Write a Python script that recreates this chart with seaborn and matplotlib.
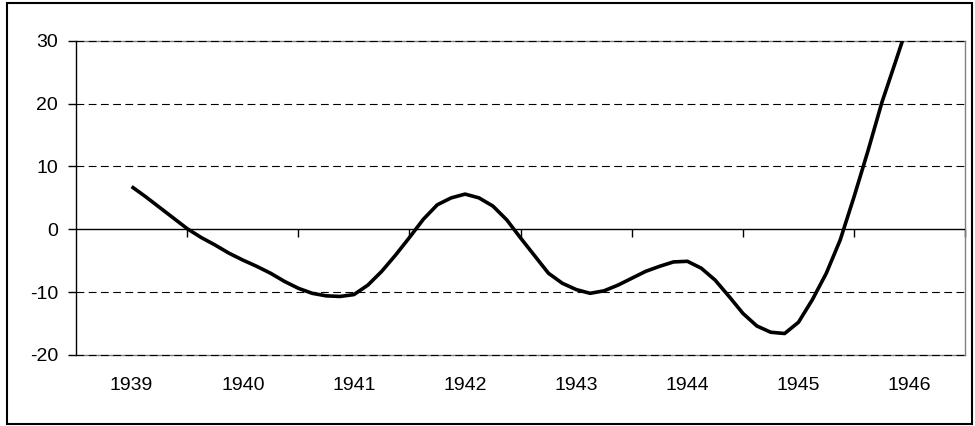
import pandas as pd
import matplotlib
matplotlib.use('Agg')
import matplotlib.pyplot as plt
from matplotlib.patches import Rectangle
import seaborn as sns

sns.set_theme(style='white')
plt.rcParams['font.family'] = ['Liberation Sans', 'DejaVu Sans']
plt.rcParams['axes.unicode_minus'] = False

# yearly categories shown on the axis
years = [1939, 1940, 1941, 1942, 1943, 1944, 1945, 1946]

# curve, one reading every eighth of a year
period = [1939.0, 1939.125, 1939.25, 1939.375, 1939.5, 1939.625, 1939.75, 1939.875,
          1940.0, 1940.125, 1940.25, 1940.375, 1940.5, 1940.625, 1940.75, 1940.875,
          1941.0, 1941.125, 1941.25, 1941.375, 1941.5, 1941.625, 1941.75, 1941.875,
          1942.0, 1942.125, 1942.25, 1942.375, 1942.5, 1942.625, 1942.75, 1942.875,
          1943.0, 1943.125, 1943.25, 1943.375, 1943.5, 1943.625, 1943.75, 1943.875,
          1944.0, 1944.125, 1944.25, 1944.375, 1944.5, 1944.625, 1944.75, 1944.875,
          1945.0, 1945.125, 1945.25, 1945.375, 1945.5, 1945.625, 1945.75, 1945.875,
          1946.0]
value = [6.8, 5.2, 3.5, 1.8, 0.1, -1.3, -2.5, -3.8,
         -4.9, -5.9, -7.0, -8.3, -9.4, -10.2, -10.6, -10.7,
         -10.4, -8.9, -6.7, -4.1, -1.3, 1.6, 3.9, 5.0,
         5.6, 5.0, 3.7, 1.5, -1.4, -4.2, -7.0, -8.6,
         -9.6, -10.2, -9.8, -8.9, -7.8, -6.7, -5.9, -5.2,
         -5.1, -6.2, -8.1, -10.7, -13.4, -15.4, -16.4, -16.6,
         -14.8, -11.2, -7.0, -1.7, 5.2, 12.5, 20.2, 26.8,
         33.5]

y_ticks = [-20, -10, 0, 10, 20, 30]

df = pd.DataFrame({'period': period, 'value': value})

fig = plt.figure(figsize=(9.75, 4.26), dpi=100)
ax = fig.add_axes([0.078, 0.167, 0.912, 0.737])

# dashed grid over the grey frame, line on top
for yv in y_ticks:
    if yv != 0:
        ax.axhline(yv, color='black', lw=0.8, ls=(0, (7, 4)), zorder=2.6,
                   clip_on=False)
ax.axhline(0, color='black', lw=1.0, zorder=2.6)

sns.lineplot(data=df, x='period', y='value', sort=False, color='black',
             lw=2.6, ax=ax, zorder=3)
for ln in ax.lines:
    ln.set_solid_capstyle('butt')
    ln.set_solid_joinstyle('round')

ax.set_xlim(years[0] - 0.5, years[-1] + 0.5)
ax.set_ylim(-20, 30)
ax.set_xlabel('')
ax.set_ylabel('')

ax.set_xticks(years)
ax.set_xticklabels([str(y) for y in years])
ax.set_yticks(y_ticks)
ax.tick_params(axis='x', length=0, pad=16, labelsize=14, colors='black')
ax.tick_params(axis='y', left=True, length=6, width=1, direction='out',
               pad=7, labelsize=14, colors='black')

for side in ['top', 'bottom', 'right']:
    ax.spines[side].set_color('#808080')
    ax.spines[side].set_linewidth(1.0)
ax.spines['left'].set_color('black')
ax.spines['left'].set_linewidth(1.0)
ax.spines['left'].set_zorder(4)

# category axis crossing at zero, ticks between the years
sec = ax.secondary_xaxis(0, transform=ax.transData)
sec.set_xticks([y + 0.5 for y in years])
sec.set_xticklabels([])
sec.tick_params(length=6, width=1, direction='out', colors='black')
sec.spines['bottom'].set_visible(False)

fig.patches.append(Rectangle((0.007, 0.005), 0.99, 0.988, transform=fig.transFigure,
                             fill=False, edgecolor='black', lw=1.5))

fig.savefig('out.png', dpi=100, facecolor='white')
